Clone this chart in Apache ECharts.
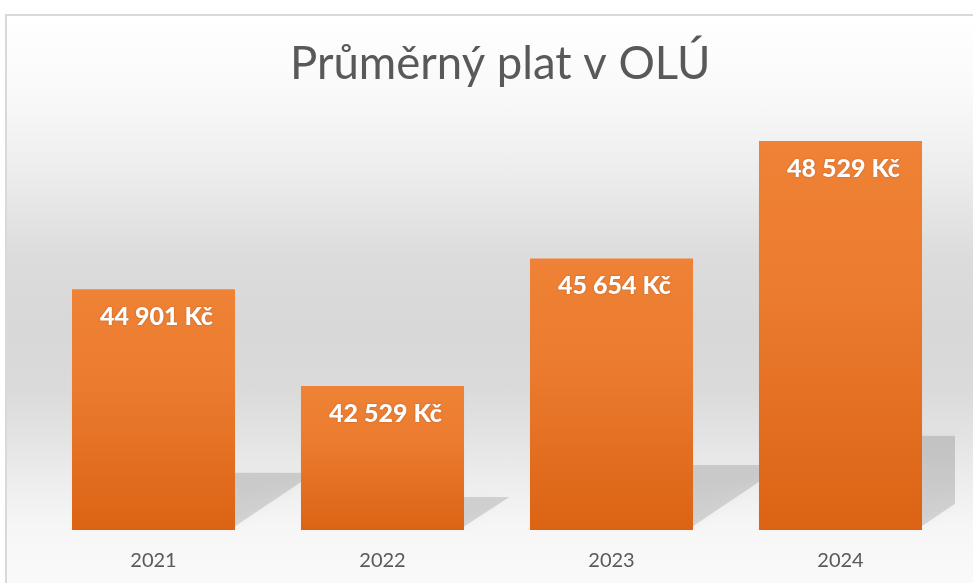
<!DOCTYPE html>
<html>
<head>
<meta charset="utf-8">
<script src="https://cdn.jsdelivr.net/npm/echarts@6/dist/echarts.min.js"></script>
<style>
html,body{margin:0;padding:0;width:973px;height:583px;overflow:hidden;background:#ffffff;}
#frame{position:absolute;left:5px;top:14px;width:980px;height:580px;border:2px solid #d9d9d9;
background:linear-gradient(to bottom,#ffffff 0px,#f9f9f9 80px,#ececec 160px,#dcdcdc 240px,#d8d8d8 310px,#dadada 370px,#e3e3e3 420px,#ebebeb 455px,#f6f6f6 510px,#fafafa 569px);}
#chart{position:absolute;left:0;top:0;width:973px;height:583px;}
</style>
</head>
<body>
<div id="frame"></div>
<div id="chart"></div>
<script>
const categories = ['2021', '2022', '2023', '2024'];
const salaries = [44901, 42529, 45654, 48529];
const axisMin = 39000;
const axisMax = 50000;
const titleText = 'Průměrný plat v OLÚ';

function fmt(v) {
  return String(v).replace(/\B(?=(\d{3})+(?!\d))/g, ' ') + ' Kč';
}

const chart = echarts.init(document.getElementById('chart'), null, {renderer: 'canvas'});
const barRatio = 163 / 229;

chart.setOption({
  backgroundColor: 'transparent',
  animation: false,
  title: {
    text: titleText,
    left: 285,
    top: 36,
    textStyle: {fontFamily: 'Lato', fontSize: 45.5, fontWeight: 'normal', color: '#595959'}
  },
  grid: {left: 39, right: 18, top: 81, bottom: 53, containLabel: false},
  xAxis: {
    type: 'category',
    data: categories,
    axisLine: {show: false},
    axisTick: {show: false},
    axisLabel: {fontFamily: 'Lato', fontSize: 20, color: '#595959', margin: 21}
  },
  yAxis: {
    type: 'value',
    min: axisMin,
    max: axisMax,
    show: false,
    splitLine: {show: false}
  },
  series: [
    {
      type: 'custom',
      clip: true,
      z: 1,
      data: salaries,
      renderItem: function (params, api) {
        const idx = params.dataIndex;
        const top = api.coord([idx, api.value(0)]);
        const base = api.coord([idx, axisMin]);
        const bw = api.size([1, 0])[0] * barRatio;
        const xr = top[0] + bw / 2;
        const s = (base[1] - top[1]) * 0.25;
        const L = s / 0.7;
        return {
          type: 'polygon',
          shape: {points: [[xr - 10, base[1] - s + 3], [xr + L - 6, base[1] - s + 3], [xr - 10, base[1] + 3]]},
          style: {fill: 'rgba(0,0,0,0.13)', shadowBlur: 12, shadowColor: 'rgba(0,0,0,0.18)'}
        };
      },
      encode: {x: 0, y: 0}
    },
    {
      type: 'bar',
      z: 2,
      data: salaries,
      barWidth: '71.2%',
      itemStyle: {
        color: new echarts.graphic.LinearGradient(0, 0, 0, 1, [
          {offset: 0, color: '#ef8236'},
          {offset: 0.4, color: '#eb7b2f'},
          {offset: 1, color: '#dc6314'}
        ])
      },
      label: {
        show: true,
        position: 'insideTop',
        distance: 15,
        offset: [3, 0],
        formatter: function (p) { return fmt(p.value); },
        fontFamily: 'Lato',
        fontSize: 25,
        fontWeight: 900,
        color: '#ffffff',
        textShadowColor: 'rgba(0,0,0,0.25)',
        textShadowBlur: 2
      }
    }
  ]
});
</script>
</body>
</html>
